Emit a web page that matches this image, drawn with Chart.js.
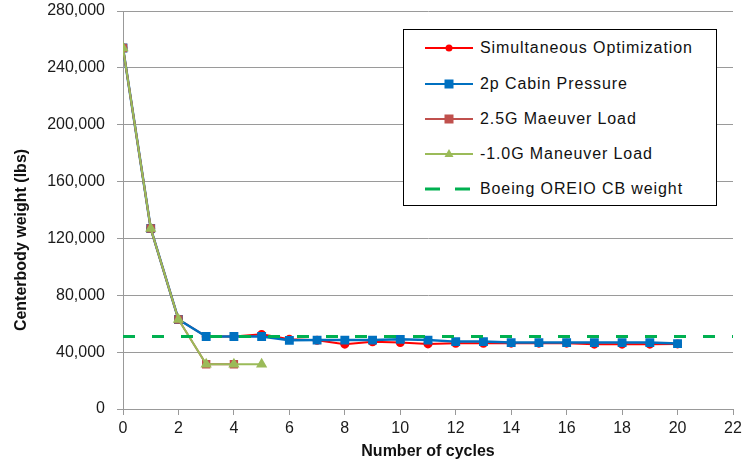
<!DOCTYPE html>
<html><head><meta charset="utf-8">
<script src="https://cdn.jsdelivr.net/npm/chart.js@4.4.1/dist/chart.umd.min.js"></script>
<style>
html,body{margin:0;padding:0;background:#fff;}
#wrap{position:relative;width:748px;height:465px;}
#legend{position:absolute;left:403px;top:29px;width:314px;height:177px;border:1px solid #000;background:#fff;box-sizing:border-box;font-family:"Liberation Sans",Arial,sans-serif;font-size:16px;letter-spacing:0.9px;color:#111;}
.row{position:absolute;left:0;height:20px;display:flex;align-items:center;white-space:nowrap;}
.row svg{margin-left:21px;margin-right:7px;}
</style></head>
<body><div id="wrap"><canvas id="c" width="748" height="465"></canvas><div id="legend"></div></div>
<script>
const cycles = [0,1,2,3,4,5,6,7,8,9,10,11,12,13,14,15,16,17,18,19,20];
const simultaneous = [254000,127000,63000,51000,51000,52500,49000,48300,45600,47300,46700,45800,46200,46200,46300,46300,46300,45600,45600,45600,45800];
const cabinPressure = [254000,127000,63000,51000,51000,51000,48300,48500,48500,48500,49000,48500,47400,47400,46700,46700,46700,46700,46700,46700,46000];
const maneuver25 = [254000,127000,63000,31500,31500];
const maneuverNeg10 = [254000,127000,63000,31500,31500,31500];
const boeingX = [0,22];
const boeingY = [51000,51000];
const seriesNames = ["Simultaneous Optimization","2p Cabin Pressure","2.5G Maeuver Load","-1.0G Maneuver Load","Boeing OREIO CB weight"];
const xTicks = [0,2,4,6,8,10,12,14,16,18,20,22];
const yTicks = [0,40000,80000,120000,160000,200000,240000,280000];

const pts = (xs, ys) => ys.map((v,i)=>({x:xs[i], y:v}));
const colors = ["#FF0000","#0070C0","#C0504D","#9BBB59","#00B050"];
const FONT = '"Liberation Sans", Arial, sans-serif';

const yTitle = {
  id:'yTitle',
  afterDraw(chart){
    const ctx = chart.ctx;
    ctx.save();
    ctx.translate(22, 240);
    ctx.rotate(-Math.PI/2);
    ctx.font = 'bold 16px ' + FONT;
    ctx.fillStyle = '#111';
    ctx.textAlign = 'center';
    ctx.textBaseline = 'middle';
    ctx.fillText('Centerbody weight (lbs)', 0, 0);
    ctx.restore();
  }
};

new Chart(document.getElementById('c'), {
  type:'line',
  data:{datasets:[
    {label:seriesNames[0], data:pts(cycles, simultaneous), borderColor:colors[0], backgroundColor:colors[0], borderWidth:2, pointStyle:'circle', pointRadius:3.5, order:5},
    {label:seriesNames[1], data:pts(cycles, cabinPressure), borderColor:colors[1], backgroundColor:colors[1], borderWidth:2.5, pointStyle:'rect', pointRadius:4.5, order:4},
    {label:seriesNames[2], data:pts(cycles, maneuver25), borderColor:colors[2], backgroundColor:colors[2], borderWidth:2, pointStyle:'rect', pointRadius:4.5, order:3},
    {label:seriesNames[3], data:pts(cycles, maneuverNeg10), borderColor:colors[3], backgroundColor:colors[3], borderWidth:2, pointStyle:'triangle', pointRadius:4.5, order:2},
    {label:seriesNames[4], data:pts(boeingX, boeingY), borderColor:colors[4], backgroundColor:colors[4], borderWidth:3, borderDash:[12,17], pointRadius:0, order:1}
  ]},
  options:{
    responsive:false, animation:false,
    layout:{padding:{top:11,right:15,left:0,bottom:0}},
    plugins:{legend:{display:false}, tooltip:{enabled:false}},
    elements:{line:{tension:0}},
    scales:{
      x:{type:'linear', min:0, max:22,
        afterBuildTicks(s){ s.ticks = xTicks.map(v=>({value:v})); },
        afterFit(s){ s.height = 56; s.paddingLeft = 0; s.paddingRight = 0; },
        ticks:{font:{family:FONT,size:16}, color:'#1a1a1a', padding:4},
        grid:{drawOnChartArea:false, tickLength:6, color:'#999'},
        border:{color:'#999'},
        title:{display:true, text:'Number of cycles', font:{family:FONT,size:16,weight:'bold'}, color:'#111', padding:{top:3.5,bottom:3.5}}
      },
      y:{min:0, max:280000,
        afterBuildTicks(s){ s.ticks = yTicks.map(v=>({value:v})); },
        afterFit(s){ s.width = 123; s.paddingTop = 0; s.paddingBottom = 0; },
        ticks:{font:{family:FONT,size:16}, color:'#1a1a1a', padding:12, callback:v=>v.toLocaleString('en-US')},
        grid:{tickLength:6, color:'#9a9a9a'},
        border:{color:'#999'}
      }
    }
  },
  plugins:[yTitle]
});

// legend
const legend = document.getElementById('legend');
const rowY = [18, 54, 89, 124, 159];
seriesNames.forEach((name,i)=>{
  const r = document.createElement('div');
  r.className='row';
  r.style.top = (rowY[i]-10)+'px';
  let mk = '';
  if(i===0) mk = `<circle cx="24" cy="10" r="3.5" fill="${colors[0]}"/>`;
  if(i===1) mk = `<rect x="19.5" y="5.5" width="9" height="9" fill="${colors[1]}"/>`;
  if(i===2) mk = `<rect x="19.5" y="5.5" width="9" height="9" fill="${colors[2]}"/>`;
  if(i===3) mk = `<polygon points="24,5 28.5,13 19.5,13" fill="${colors[3]}"/>`;
  const line = i===4
    ? `<line x1="0" y1="10" x2="48" y2="10" stroke="${colors[4]}" stroke-width="3" stroke-dasharray="15,15"/>`
    : `<line x1="0" y1="10" x2="48" y2="10" stroke="${colors[i]}" stroke-width="2"/>`;
  r.innerHTML = `<svg width="48" height="20">${line}${mk}</svg><span>${name}</span>`;
  legend.appendChild(r);
});
</script>
</body></html>
